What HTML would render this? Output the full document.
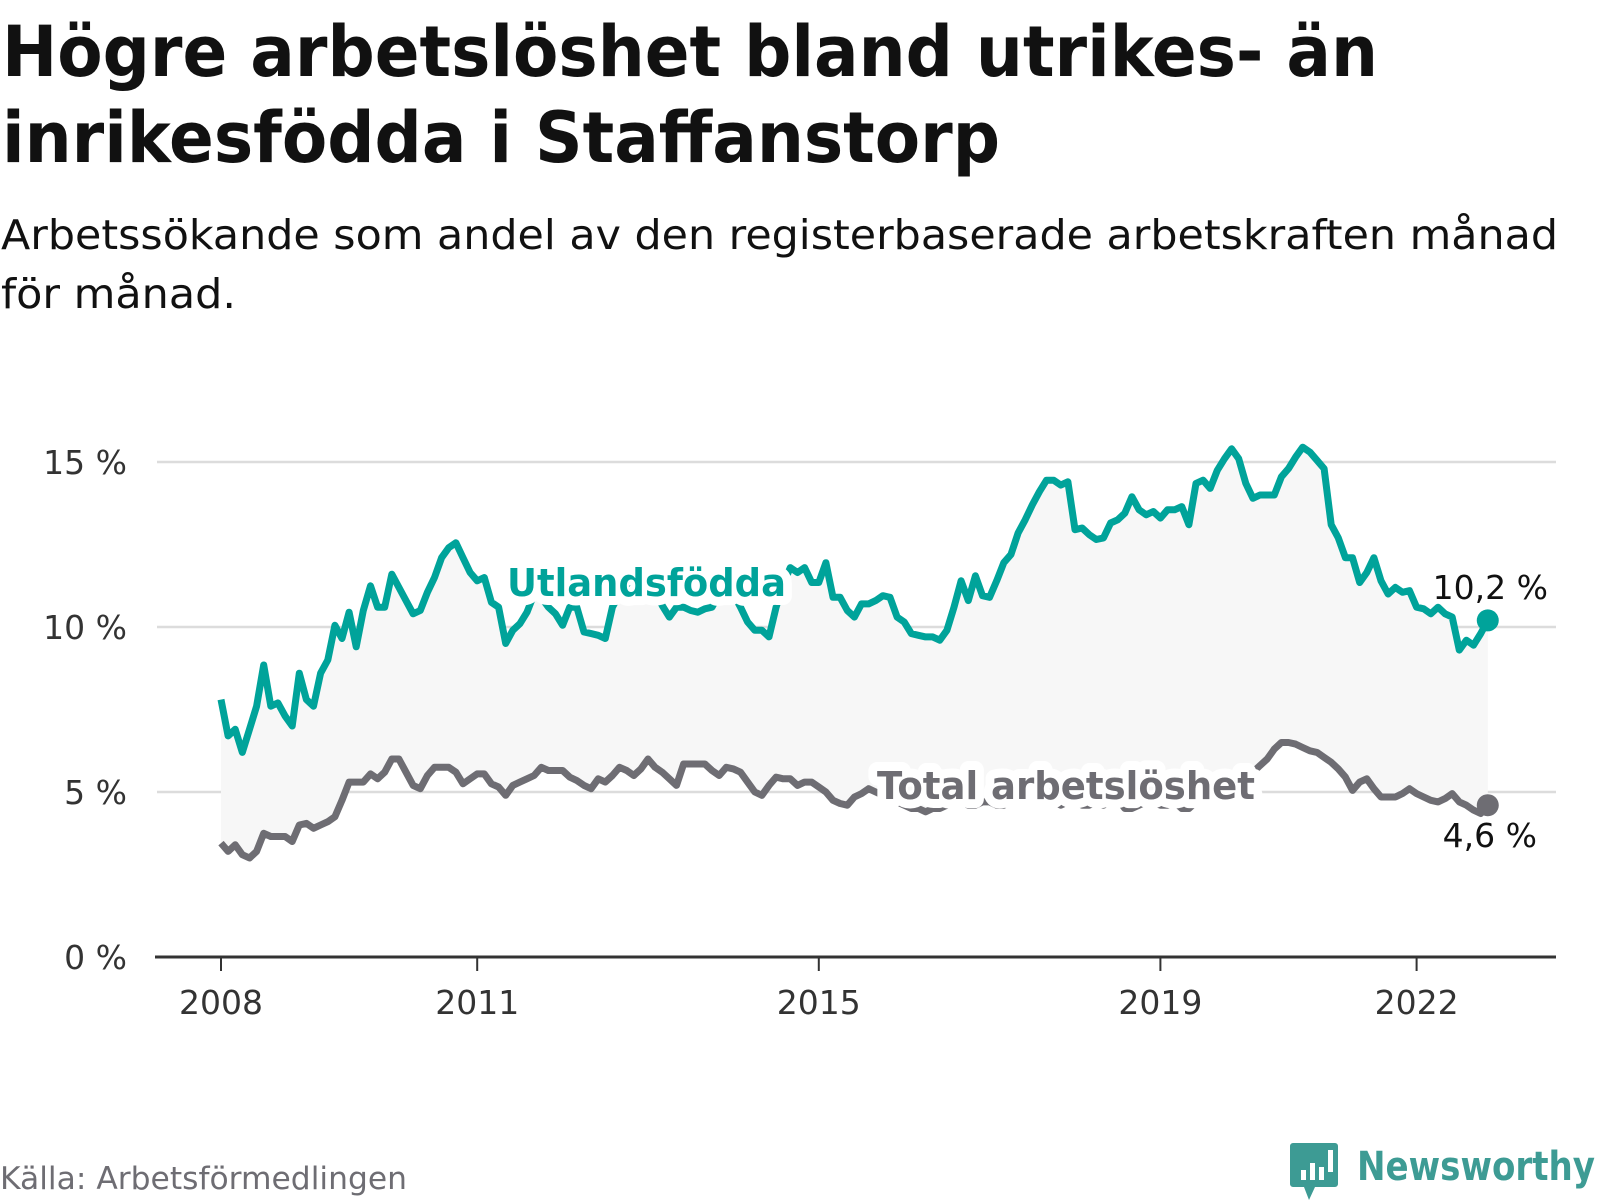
<!DOCTYPE html>
<html><head><meta charset="utf-8"><style>
html,body{margin:0;padding:0;background:#fff;}
svg{display:block;font-family:"DejaVu Sans","Liberation Sans",sans-serif;}
</style></head><body>
<svg id="chart" width="1600" height="1200" viewBox="0 0 1600 1200">
<text x="2" y="76" font-size="70" font-weight="bold" fill="#111" textLength="1376" lengthAdjust="spacingAndGlyphs">Högre arbetslöshet bland utrikes- än</text>
<text x="2" y="162" font-size="70" font-weight="bold" fill="#111" textLength="998" lengthAdjust="spacingAndGlyphs">inrikesfödda i Staffanstorp</text>
<text x="1" y="249" font-size="41" fill="#111" textLength="1557" lengthAdjust="spacingAndGlyphs">Arbetssökande som andel av den registerbaserade arbetskraften månad</text>
<text x="1" y="308" font-size="41" fill="#111" textLength="235" lengthAdjust="spacingAndGlyphs">för månad.</text>
<g id="grid"></g>
<g id="band"></g>
<g id="series"></g>
<g id="axes"></g>
<g id="labels"></g>
<text x="0" y="1189" font-size="31" fill="#6e6d73" textLength="407" lengthAdjust="spacingAndGlyphs">Källa: Arbetsförmedlingen</text>
<g>
<path d="M1293 1143 h42 a3 3 0 0 1 3 3 v38 a3 3 0 0 1 -3 3 h-20 l-6 13 l-5 -13 h-11 a3 3 0 0 1 -3 -3 v-38 a3 3 0 0 1 3 -3z" fill="#3d9b94"/>
<rect x="1301" y="1170" width="5" height="10" fill="#fff"/>
<rect x="1310" y="1163" width="5" height="17" fill="#fff"/>
<rect x="1319" y="1167" width="5" height="13" fill="#fff"/>
<rect x="1328" y="1150" width="5" height="22" fill="#fff"/>
<text x="1357" y="1180" font-size="40" font-weight="bold" fill="#3d9b94" textLength="238" lengthAdjust="spacingAndGlyphs">Newsworthy</text>
</g>
</svg>
<script>
const months = [];
for (let i = 0; i < 179; i++) months.push(i);
const foreignBorn = [
7.8,6.7,6.9,6.2,6.9,7.6,8.85,7.6,7.7,7.3,7.0,8.6,
7.8,7.6,8.6,9.0,10.05,9.65,10.45,9.4,10.5,11.25,10.6,10.6,
11.6,11.2,10.8,10.4,10.5,11.05,11.5,12.1,12.4,12.55,12.1,11.65,
11.4,11.5,10.75,10.6,9.5,9.9,10.1,10.45,11.0,10.9,10.6,10.4,
10.05,10.6,10.6,9.85,9.8,9.75,9.65,10.6,11.0,11.1,11.2,11.0,
11.0,11.1,10.65,10.3,10.6,10.6,10.5,10.45,10.55,10.6,11.0,11.1,
11.0,10.6,10.15,9.9,9.9,9.7,10.6,11.3,11.8,11.65,11.8,11.35,
11.35,11.95,10.9,10.9,10.5,10.3,10.7,10.7,10.8,10.95,10.9,10.3,
10.15,9.8,9.75,9.7,9.7,9.6,9.9,10.6,11.4,10.8,11.55,10.95,
10.9,11.4,11.95,12.2,12.85,13.25,13.7,14.1,14.45,14.45,14.3,14.4,
12.95,13.0,12.8,12.65,12.7,13.15,13.25,13.45,13.95,13.55,13.4,13.5,
13.3,13.55,13.55,13.65,13.1,14.35,14.45,14.2,14.75,15.1,15.4,15.1,
14.35,13.9,14.0,14.0,14.0,14.55,14.8,15.15,15.45,15.3,15.05,14.8,
13.1,12.7,12.1,12.1,11.35,11.65,12.1,11.4,11.0,11.2,11.05,11.1,
10.6,10.55,10.4,10.6,10.4,10.3,9.3,9.6,9.45,9.8,10.2];
const total = [
3.45,3.2,3.4,3.1,3.0,3.2,3.75,3.65,3.65,3.65,3.5,4.0,
4.05,3.9,4.0,4.1,4.25,4.75,5.3,5.3,5.3,5.55,5.4,5.6,
6.0,6.0,5.6,5.2,5.1,5.5,5.75,5.75,5.75,5.6,5.25,5.4,
5.55,5.55,5.25,5.15,4.9,5.2,5.3,5.4,5.5,5.75,5.65,5.65,
5.65,5.45,5.35,5.2,5.1,5.4,5.3,5.5,5.75,5.65,5.5,5.7,
6.0,5.75,5.6,5.4,5.2,5.85,5.85,5.85,5.85,5.65,5.5,5.75,
5.7,5.6,5.3,5.0,4.9,5.2,5.45,5.4,5.4,5.2,5.3,5.3,
5.15,5.0,4.75,4.65,4.6,4.85,4.95,5.1,5.0,4.9,4.8,4.7,
4.6,4.5,4.5,4.4,4.5,4.5,4.6,4.7,4.7,4.6,4.6,4.7,
4.7,4.6,4.6,4.7,4.8,4.7,4.7,4.8,4.8,4.7,4.6,4.7,
4.7,4.6,4.6,4.7,4.6,4.7,4.8,4.5,4.5,4.6,4.7,4.7,
4.6,4.6,4.7,4.5,4.5,4.7,4.8,4.8,4.9,5.0,5.2,5.2,
5.4,5.6,5.8,6.0,6.3,6.5,6.5,6.45,6.35,6.25,6.2,6.05,
5.9,5.7,5.45,5.05,5.3,5.4,5.1,4.85,4.85,4.85,4.95,5.1,
4.95,4.85,4.75,4.7,4.8,4.95,4.7,4.6,4.45,4.35,4.6];
const yTicks = [0,5,10,15];
const yTickLabels = ["0 %","5 %","10 %","15 %"];
const xTickYears = [2008,2011,2015,2019,2022];
const xTickLabels = ["2008","2011","2015","2019","2022"];

const NS = "http://www.w3.org/2000/svg";
function xScale(m){ return 221 + m * 85.4 / 12; }
function yScale(v){ return 957 - v * 33; }
function yearX(yr){ return xScale((yr - 2008) * 12); }
function mk(tag, attrs, parent){
  const e = document.createElementNS(NS, tag);
  for (const k in attrs) e.setAttribute(k, attrs[k]);
  parent.appendChild(e);
  return e;
}
const grid = document.getElementById('grid');
const axes = document.getElementById('axes');
const band = document.getElementById('band');
const series = document.getElementById('series');
const labels = document.getElementById('labels');

yTicks.forEach((t, i) => {
  if (t > 0) {
    const g = mk('line', {x1:157, x2:1556, y1:yScale(t), y2:yScale(t), stroke:'#dcdcdc', 'stroke-width':2.5}, grid);
    
    
  }
  const tl = mk('text', {x:127, y:yScale(t) + 12, 'text-anchor':'end', 'font-size':33, fill:'#333'}, axes);
  tl.textContent = yTickLabels[i];
  
  
});

let d = '';
months.forEach((m, i) => { d += (i ? 'L' : 'M') + xScale(m).toFixed(1) + ' ' + yScale(foreignBorn[i]).toFixed(1); });
for (let i = months.length - 1; i >= 0; i--) d += 'L' + xScale(months[i]).toFixed(1) + ' ' + yScale(total[i]).toFixed(1);
const bandPath = mk('path', {d: d + 'Z', fill:'#f7f7f7'}, band);



const ax = mk('line', {x1:155, x2:1556, y1:957, y2:957, stroke:'#333', 'stroke-width':3}, axes);


xTickYears.forEach((yr, i) => {
  const t = mk('line', {x1:yearX(yr), x2:yearX(yr), y1:957, y2:971, stroke:'#333', 'stroke-width':2}, axes);
  
  
  const l = mk('text', {x:yearX(yr), y:1014, 'text-anchor':'middle', 'font-size':33, fill:'#333'}, axes);
  l.textContent = xTickLabels[i];
  
  
});

function linePath(vals){
  return vals.map((v, i) => (i ? 'L' : 'M') + xScale(months[i]).toFixed(1) + ' ' + yScale(v).toFixed(1)).join('');
}
const tl = mk('path', {d: linePath(total), fill:'none', stroke:'#6e6d73', 'stroke-width':7, 'stroke-linejoin':'round'}, series);


const fl = mk('path', {d: linePath(foreignBorn), fill:'none', stroke:'#00a39a', 'stroke-width':7, 'stroke-linejoin':'round'}, series);



const last = months.length - 1;
const d1 = mk('circle', {cx:xScale(months[last]), cy:yScale(foreignBorn[last]), r:11, fill:'#00a39a'}, series);


const d2 = mk('circle', {cx:xScale(months[last]), cy:yScale(total[last]), r:11, fill:'#6e6d73'}, series);



function halo(txt, x, y, size, color, w, name){
  const t = mk('text', {x:x, y:y, 'font-size':size, 'font-weight':'bold', fill:color, stroke:'#fff', 'stroke-width':18, 'stroke-linejoin':'round', 'paint-order':'stroke', textLength:w, lengthAdjust:'spacingAndGlyphs'}, labels);
  t.textContent = txt;
  
  
}
halo('Utlandsfödda', 507, 596, 38, '#00a39a', 279, 'foreign-born-series-label');
halo('Total arbetslöshet', 877, 799, 38, '#6e6d73', 378, 'total-series-label');

const v1 = mk('text', {x:1548, y:599, 'text-anchor':'end', 'font-size':33, fill:'#111', stroke:'#fff', 'stroke-width':8, 'paint-order':'stroke'}, labels);
v1.textContent = foreignBorn[last].toFixed(1).replace('.', ',') + ' %';


const v2 = mk('text', {x:1537, y:847, 'text-anchor':'end', 'font-size':33, fill:'#111', stroke:'#fff', 'stroke-width':8, 'paint-order':'stroke'}, labels);
v2.textContent = total[last].toFixed(1).replace('.', ',') + ' %';


</script>
</body></html>
